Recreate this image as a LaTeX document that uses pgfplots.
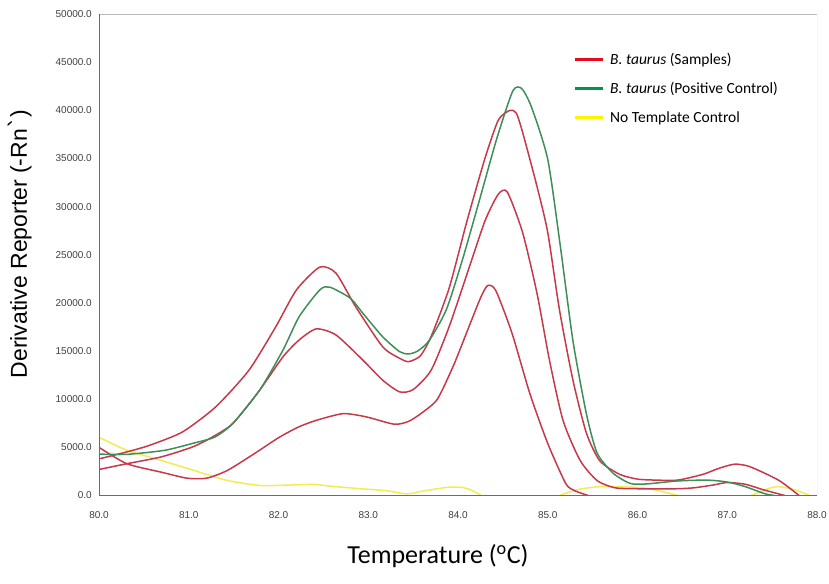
\documentclass[border=0pt]{standalone}
\usepackage{pgfplots}
\pgfplotsset{compat=1.18}
\usepackage{fontspec}
\setmainfont{Liberation Sans}
\newfontfamily\calfont{Carlito}
\newfontfamily\dejavu{DejaVu Sans}
\definecolor{cred}{RGB}{198,56,74}
\definecolor{cgreen}{RGB}{62,142,88}
\definecolor{cyellow}{RGB}{242,236,80}
\definecolor{lred}{RGB}{226,12,30}
\definecolor{lgreen}{RGB}{0,150,72}
\definecolor{lyellow}{RGB}{250,246,0}
\begin{document}
\begin{tikzpicture}[x=1bp,y=1bp]
\path[use as bounding box] (0,0) rectangle (829,584);
\begin{axis}[
  at={(99bp,88.5bp)}, anchor=south west,
  scale only axis, width=718bp, height=481.5bp,
  xmin=80, xmax=88, ymin=0, ymax=50000,
  xtick={80,81,...,88}, ytick={0,5000,...,50000},
  major tick length=0pt,
  axis line style={draw=none},
  /pgf/number format/.cd, fixed, fixed zerofill, precision=1, 1000 sep={}, assume math mode=true,
  /pgfplots/.cd,
  scaled ticks=false,
  tick label style={font=\fontsize{10bp}{12bp}\selectfont, text=black!75},
  xticklabel style={anchor=center, yshift=-20bp},
  yticklabel style={anchor=east, inner sep=0pt, xshift=-7bp},
  every axis plot/.append style={line width=1.5bp, smooth, tension=0.4},
]
% No template control (yellow)
\addplot[cyellow] coordinates {(80.0,6050) (80.31,4700) (80.69,3650) (81.06,2600) (81.43,1560) (81.8,1040) (82.18,1100) (82.4,1150) (82.6,950) (82.92,700) (83.2,500) (83.43,170) (83.6,450) (83.88,850) (84.04,850) (84.15,550) (84.26,0)};
\addplot[cyellow] coordinates {(85.13,0) (85.35,650) (85.59,920) (85.9,880) (86.1,750) (86.3,350) (86.45,0)};
\addplot[cyellow] coordinates {(87.27,0) (87.45,700) (87.57,920) (87.75,600) (87.92,0)};
% B. taurus samples (red)
\addplot[cred] coordinates {(80.0,3800) (80.3,4500) (80.56,5200) (80.93,6600) (81.3,9200) (81.67,13000) (81.97,17530) (82.2,21350) (82.46,23720) (82.64,23090) (82.86,19600) (83.16,15450) (83.35,14240) (83.45,13900) (83.58,14500) (83.7,16500) (83.9,21500) (84.1,28500) (84.3,35000) (84.45,39000) (84.58,40000) (84.65,39700) (84.72,37700) (84.88,32100) (85.0,27300) (85.13,19300) (85.28,12000) (85.43,6500) (85.58,3600) (85.8,2200) (86.0,1700) (86.2,1600) (86.45,1600) (86.73,2200) (86.9,2800) (87.08,3250) (87.25,3000) (87.57,1600) (87.8,0)};
\addplot[cred] coordinates {(80.0,2700) (80.31,3300) (80.69,4000) (81.04,5030) (81.25,6000) (81.49,7470) (81.79,10940) (82.05,14400) (82.23,16150) (82.42,17300) (82.64,16670) (82.94,14060) (83.16,11980) (83.35,10760) (83.5,11000) (83.7,13000) (83.9,17500) (84.1,23000) (84.3,28500) (84.45,31300) (84.55,31500) (84.72,27300) (84.88,21000) (85.02,14000) (85.17,7800) (85.36,3650) (85.55,1550) (85.75,800) (86.0,700) (86.43,700) (86.63,800) (86.85,1100) (87.0,1350) (87.2,1170) (87.4,600) (87.64,0)};
\addplot[cred] coordinates {(80.0,5000) (80.31,3300) (80.69,2430) (80.98,1800) (81.2,1800) (81.43,2600) (81.73,4340) (82.0,6000) (82.22,7100) (82.42,7800) (82.72,8500) (82.98,8160) (83.29,7400) (83.45,7700) (83.6,8600) (83.77,10000) (83.95,13500) (84.1,17000) (84.25,20500) (84.33,21800) (84.42,21300) (84.6,16900) (84.8,10600) (85.0,5400) (85.2,1250) (85.3,500) (85.45,0)};
% B. taurus positive control (green)
\addplot[cgreen] coordinates {(80.0,4300) (80.31,4270) (80.73,4690) (81.04,5400) (81.29,6070) (81.49,7470) (81.79,10940) (82.05,15100) (82.23,18570) (82.46,21350) (82.57,21640) (82.8,20490) (82.94,18920) (83.16,16490) (83.35,14930) (83.45,14700) (83.55,15000) (83.68,16100) (83.87,19300) (84.05,24500) (84.24,30700) (84.43,37000) (84.61,42000) (84.71,42260) (84.82,40300) (85.0,34900) (85.14,25900) (85.28,16100) (85.43,8500) (85.55,4400) (85.73,2300) (85.92,1250) (86.1,1200) (86.43,1500) (86.77,1600) (87.0,1400) (87.2,920) (87.42,180) (87.53,0)};
% axis frame
\draw[gray!55, line width=0.9bp] (rel axis cs:0,1) -- (rel axis cs:1,1) -- (rel axis cs:1,0);
\draw[gray!85!black, line width=1.8bp] (rel axis cs:0,1) -- (rel axis cs:0,0) -- (rel axis cs:1,0);
\end{axis}
% legend
\draw[lred, line width=3bp] (575,524) -- (603,524);
\draw[lgreen, line width=3bp] (575,495) -- (603,495);
\draw[lyellow, line width=3bp] (575,466) -- (603,466);
\node[anchor=west, inner sep=0pt, font=\calfont\fontsize{15.5bp}{18bp}\selectfont] at (610,524) {\textit{B. taurus} (Samples)};
\node[anchor=west, inner sep=0pt, font=\calfont\fontsize{15.5bp}{18bp}\selectfont] at (610,495) {\textit{B. taurus} (Positive Control)};
\node[anchor=west, inner sep=0pt, font=\calfont\fontsize{15.5bp}{18bp}\selectfont] at (610,466) {No Template Control};
% axis labels
\node[font=\calfont\fontsize{26bp}{30bp}\selectfont] at (438,28) {Temperature (\textsuperscript{o}C)};
\node[rotate=90, font=\fontsize{23bp}{27bp}\selectfont] at (20,340) {Derivative Reporter (-Rn{\dejavu ˋ})};
\end{tikzpicture}
\end{document}
